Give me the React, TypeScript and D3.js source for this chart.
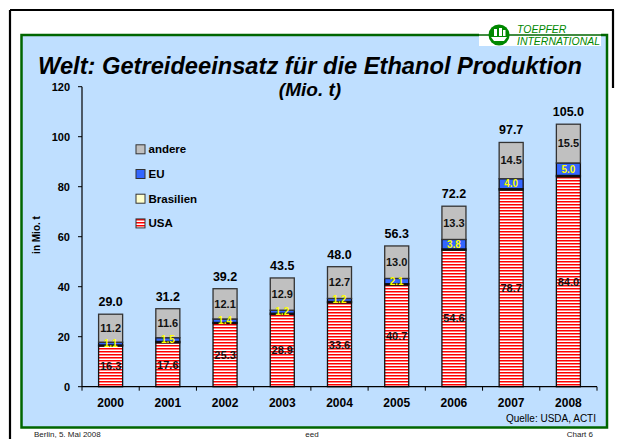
import React from "react";
import * as d3 from "d3";

const years = ["2000", "2001", "2002", "2003", "2004", "2005", "2006", "2007", "2008"];
const usa = [16.3, 17.6, 25.3, 28.9, 33.6, 40.7, 54.6, 78.7, 84.0];
const brasilien = [0.4, 0.5, 0.4, 0.5, 0.5, 0.5, 0.5, 0.5, 0.5];
const eu = [1.1, 1.5, 1.4, 1.2, 1.2, 2.1, 3.8, 4.0, 5.0];
const andere = [11.2, 11.6, 12.1, 12.9, 12.7, 13.0, 13.3, 14.5, 15.5];
const totals = [29.0, 31.2, 39.2, 43.5, 48.0, 56.3, 72.2, 97.7, 105.0];
const yTicks = [0, 20, 40, 60, 80, 100, 120];
const seriesKeys = ["USA", "Brasilien", "EU", "andere"];
const legendItems = ["andere", "EU", "Brasilien", "USA"];

const W = 619;
const H = 439;
const FONT = "'Liberation Sans', Arial, sans-serif";

export default function App() {
  const rows = years.map((y, i) => ({
    year: y,
    USA: usa[i],
    Brasilien: brasilien[i],
    EU: eu[i],
    andere: andere[i],
  }));
  const stacked = d3.stack<any>().keys(seriesKeys)(rows);

  const x = d3
    .scaleBand<string>()
    .domain(years)
    .range([82, 597])
    .paddingInner(0.58)
    .paddingOuter(0.29);
  const y = d3.scaleLinear().domain([0, 120]).range([386.7, 86.7]);

  const fills: Record<string, string> = {
    USA: "url(#usaStripes)",
    Brasilien: "#FFFFCC",
    EU: "#3366FF",
    andere: "#C0C0C0",
  };

  const bw = x.bandwidth();
  const step = x.step();
  const boundaries = years.map((_, i) => 82 + i * step).concat([597]);

  return (
    <svg
      width={W}
      height={H}
      style={{ position: "absolute", left: 0, top: 0, background: "#fff" }}
      fontFamily={FONT}
    >
      <defs>
        <pattern id="usaStripes" width="4" height="3" patternUnits="userSpaceOnUse">
          <rect width="4" height="3" fill="#ffffff" />
          <rect width="4" height="1.5" fill="#FF0000" />
        </pattern>
      </defs>

      {/* slide frame */}
      <line x1={10} y1={10} x2={614} y2={10} stroke="#000" strokeWidth={2.2} />
      <line x1={10} y1={10} x2={10} y2={439} stroke="#000" strokeWidth={2.2} />
      <line x1={613} y1={10} x2={613} y2={88} stroke="#000" strokeWidth={2.2} />

      {/* panel */}
      <rect x={21.5} y={35} width={585.5} height={392.5} fill="#BFDFFF" stroke="#006600" strokeWidth={2.5} />

      {/* logo */}
      <rect x={479} y={23} width={122} height={23} fill="#ffffff" />
      <line x1={479} y1={35} x2={601} y2={35} stroke="#006600" strokeWidth={1.5} />
      <circle cx={499} cy={35} r={10.5} fill="#008800" />
      <path d="M491,37 L507,37 L504,41 L494,41 Z" fill="#ffffff" />
      <rect x={494} y={29} width={3} height={7} fill="#ffffff" />
      <rect x={499} y={28} width={3} height={8} fill="#ffffff" />
      <rect x={503} y={30} width={2.5} height={6} fill="#ffffff" />
      <text x={517} y={33} fontSize={10.5} fontStyle="italic" fill="#008800">TOEPFER</text>
      <text x={517} y={45} fontSize={10.5} fontStyle="italic" fill="#008800" textLength={83} lengthAdjust="spacingAndGlyphs">INTERNATIONAL</text>

      {/* titles */}
      <text
        x={310}
        y={74}
        textAnchor="middle"
        fontSize={23}
        fontWeight="bold"
        fontStyle="italic"
        fill="#000"
        textLength={544}
        lengthAdjust="spacingAndGlyphs"
      >
        Welt: Getreideeinsatz für die Ethanol Produktion
      </text>
      <text x={310} y={96} textAnchor="middle" fontSize={19} fontWeight="bold" fontStyle="italic" fill="#000">
        (Mio. t)
      </text>

      {/* y axis */}
      <line x1={82} y1={y(120)} x2={82} y2={y(0)} stroke="#000" strokeWidth={1.2} />
      {yTicks.map((t) => (
        <g key={t}>
          <line x1={78} x2={82} y1={y(t)} y2={y(t)} stroke="#000" strokeWidth={1} />
          <text x={70} y={y(t)} dy="0.35em" textAnchor="end" fontSize={11} fontWeight="bold">
            {t}
          </text>
        </g>
      ))}
      <text
        transform={`translate(40,235) rotate(-90)`}
        textAnchor="middle"
        fontSize={10}
        fontWeight="bold"
      >
        in Mio. t
      </text>

      {/* bars */}
      {stacked.map((s) => (
        <g key={s.key}>
          {s.map((d, i) => (
            <rect
              key={i}
              x={x(years[i])!}
              y={y(d[1])}
              width={bw}
              height={y(d[0]) - y(d[1])}
              fill={fills[s.key]}
              stroke={s.key === "andere" ? "#333" : "#111"}
              strokeWidth={1.3}
            />
          ))}
        </g>
      ))}

      {/* value labels */}
      {years.map((yr, i) => {
        const cx = x(yr)! + bw / 2;
        const top = usa[i] + brasilien[i] + eu[i] + andere[i];
        const euMid = usa[i] + brasilien[i] + eu[i] / 2;
        const andMid = usa[i] + brasilien[i] + eu[i] + andere[i] / 2;
        return (
          <g key={yr} fontWeight="bold" textAnchor="middle">
            <text x={cx} y={y(usa[i] / 2)} dy="0.35em" fontSize={11} fill="#111">
              {usa[i].toFixed(1)}
            </text>
            <text x={cx} y={y(euMid)} dy="0.35em" fontSize={10} fill="#FFFF00">
              {eu[i].toFixed(1)}
            </text>
            <text x={cx} y={y(andMid)} dy="0.35em" fontSize={11} fill="#111">
              {andere[i].toFixed(1)}
            </text>
            <text x={cx} y={y(top) - 8} fontSize={12.5} fill="#000">
              {totals[i].toFixed(1)}
            </text>
          </g>
        );
      })}

      {/* x axis */}
      <line x1={82} x2={597} y1={y(0)} y2={y(0)} stroke="#000" strokeWidth={1.2} />
      {boundaries.map((b, i) => (
        <line key={i} x1={b} x2={b} y1={y(0)} y2={y(0) + 4} stroke="#000" strokeWidth={1} />
      ))}
      {years.map((yr) => (
        <text key={yr} x={x(yr)! + bw / 2} y={407} textAnchor="middle" fontSize={12} fontWeight="bold">
          {yr}
        </text>
      ))}

      {/* legend */}
      {legendItems.map((k, i) => {
        const ly = 149.3 + i * 24.7;
        return (
          <g key={k}>
            <rect x={136} y={ly - 4.5} width={9} height={9} fill={fills[k]} stroke="#333" strokeWidth={1} />
            <text x={148.5} y={ly} dy="0.35em" fontSize={11.5} fontWeight="bold">
              {k}
            </text>
          </g>
        );
      })}

      <text x={596} y={422} textAnchor="end" fontSize={10}>Quelle: USDA, ACTI</text>

      {/* footer */}
      <text x={34} y={437} fontSize={8} fill="#222">Berlin, 5. Mai 2008</text>
      <text x={312} y={437} textAnchor="middle" fontSize={8} fill="#222">eed</text>
      <text x={593} y={437} textAnchor="end" fontSize={8} fill="#222">Chart 6</text>
    </svg>
  );
}
